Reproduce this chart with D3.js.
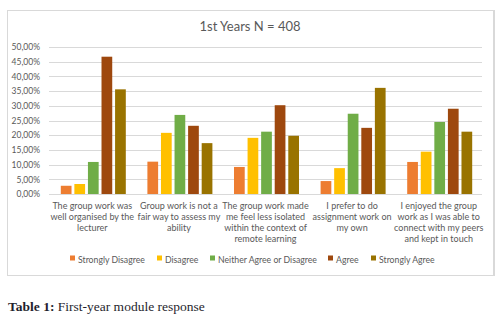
<!DOCTYPE html>
<html>
<head>
<meta charset="utf-8">
<script src="https://cdn.jsdelivr.net/npm/d3@7"></script>
<style>
  body { margin: 0; background: #fff; }
  svg text { font-family: Lato, "Open Sans", sans-serif; }
</style>
</head>
<body>
<div id="wrapper"></div>
<script>
// data
const categories = [
    ["The group work was", "well organised by the", "lecturer"],
    ["Group work is not a", "fair way to assess my", "ability"],
    ["The group work made", "me feel less isolated", "within the context of", "remote learning"],
    ["I prefer to do", "assignment work on", "my own"],
    ["I enjoyed the group", "work as I was able to", "connect with my peers", "and kept in touch"],
]
const seriesNames = ["Strongly Disagree", "Disagree", "Neither Agree or Disagree", "Agree", "Strongly Agree"]
const stronglyDisagree = [2.8, 11.0, 9.2, 4.4, 10.9]
const disagree = [3.4, 20.8, 19.1, 8.8, 14.4]
const neither = [10.9, 26.9, 21.2, 27.3, 24.5]
const agree = [46.7, 23.2, 30.2, 22.5, 29.0]
const stronglyAgree = [35.6, 17.3, 19.8, 36.1, 21.2]
const seriesValues = [stronglyDisagree, disagree, neither, agree, stronglyAgree]
const colors = ["#ED7D31", "#FFC000", "#70AD47", "#9E480E", "#997300"]
const yTicks = [0, 5, 10, 15, 20, 25, 30, 35, 40, 45, 50]

const dimensions = {
    width: 503,
    height: 315,
    margin: { top: 47, right: 21, bottom: 121, left: 49 },
}
dimensions.boundedWidth = dimensions.width - dimensions.margin.left - dimensions.margin.right
dimensions.boundedHeight = dimensions.height - dimensions.margin.top - dimensions.margin.bottom

const wrapper = d3.select("#wrapper")
    .append("svg")
    .attr("width", dimensions.width)
    .attr("height", dimensions.height)

// chart frame
wrapper.append("rect")
    .attr("x", 7.5).attr("y", 10.5)
    .attr("width", 486).attr("height", 265)
    .attr("fill", "none")
    .attr("stroke", "#d9d9d9")
wrapper.append("line")
    .attr("x1", 494).attr("x2", 494)
    .attr("y1", 10).attr("y2", 276)
    .attr("stroke", "#d9d9d9").attr("stroke-width", 2)

wrapper.append("text")
    .attr("x", 250).attr("y", 31)
    .attr("text-anchor", "middle")
    .attr("fill", "#595959")
    .style("font-size", "13px")
    .text("1st Years N = 408")

const bounds = wrapper.append("g")
    .attr("transform", `translate(${dimensions.margin.left},${dimensions.margin.top})`)

const xScale = d3.scaleBand()
    .domain(d3.range(categories.length))
    .range([0, dimensions.boundedWidth])

const innerScale = d3.scaleBand()
    .domain(d3.range(seriesNames.length))
    .range([0, 65])
    .paddingInner(0.21)

const yScale = d3.scaleLinear()
    .domain([0, 50])
    .range([dimensions.boundedHeight, 0])

// gridlines
bounds.append("g")
    .selectAll("line")
    .data(yTicks)
    .join("line")
    .attr("x1", 0)
    .attr("x2", dimensions.boundedWidth)
    .attr("y1", d => Math.round(yScale(d)) + 0.5)
    .attr("y2", d => Math.round(yScale(d)) + 0.5)
    .attr("stroke", "#d9d9d9")

const yAxisGenerator = d3.axisLeft(yScale)
    .tickValues(yTicks)
    .tickSize(0)
    .tickPadding(9)
    .tickFormat(d => d.toFixed(2).replace(".", ",") + "%")

const yAxis = bounds.append("g").call(yAxisGenerator)
yAxis.select(".domain").remove()
yAxis.selectAll("text")
    .attr("fill", "#595959")
    .style("font-size", "8.5px")
    .style("font-family", "Lato, sans-serif")

// bars
const groups = bounds.selectAll(".group")
    .data(categories)
    .join("g")
    .attr("class", "group")
    .attr("transform", (d, i) => `translate(${xScale(i) + (xScale.bandwidth() - 65) / 2 + 1},0)`)

groups.selectAll("rect")
    .data((d, i) => seriesValues.map((s, j) => ({ series: j, value: s[i] })))
    .join("rect")
    .attr("x", d => innerScale(d.series))
    .attr("width", innerScale.bandwidth())
    .attr("y", d => yScale(d.value))
    .attr("height", d => dimensions.boundedHeight - yScale(d.value))
    .attr("fill", d => colors[d.series])

// category labels
groups.append("text")
    .attr("x", 31.5)
    .attr("y", dimensions.boundedHeight + 14.5)
    .attr("text-anchor", "middle")
    .attr("fill", "#595959")
    .style("font-size", "9px")
    .selectAll("tspan")
    .data(d => d)
    .join("tspan")
    .attr("x", 31.5)
    .attr("dy", (d, i) => i === 0 ? 0 : 11.3)
    .text(d => d)

// legend
const legendItems = [0, 1, 2, 3, 4]
const legendX = [70, 157, 210, 328, 371]
const legend = wrapper.append("g")
    .selectAll("g")
    .data(legendItems)
    .join("g")
    .attr("transform", (d, i) => `translate(${legendX[i]},260)`)
legend.append("rect")
    .attr("x", 0).attr("y", -4.5)
    .attr("width", 5).attr("height", 5)
    .attr("fill", d => colors[d])
legend.append("text")
    .attr("x", 8).attr("y", 3)
    .attr("fill", "#595959")
    .style("font-size", "8.7px")
    .text(d => seriesNames[d])

// caption
const caption = wrapper.append("text")
    .attr("x", 8).attr("y", 311)
    .attr("fill", "#1f1f2e")
    .style("font-family", "'Liberation Serif', 'DejaVu Serif', serif")
    .style("font-size", "13.5px")
caption.append("tspan").style("font-weight", "bold").text("Table 1: ")
caption.append("tspan").text("First-year module response")
</script>
</body>
</html>
